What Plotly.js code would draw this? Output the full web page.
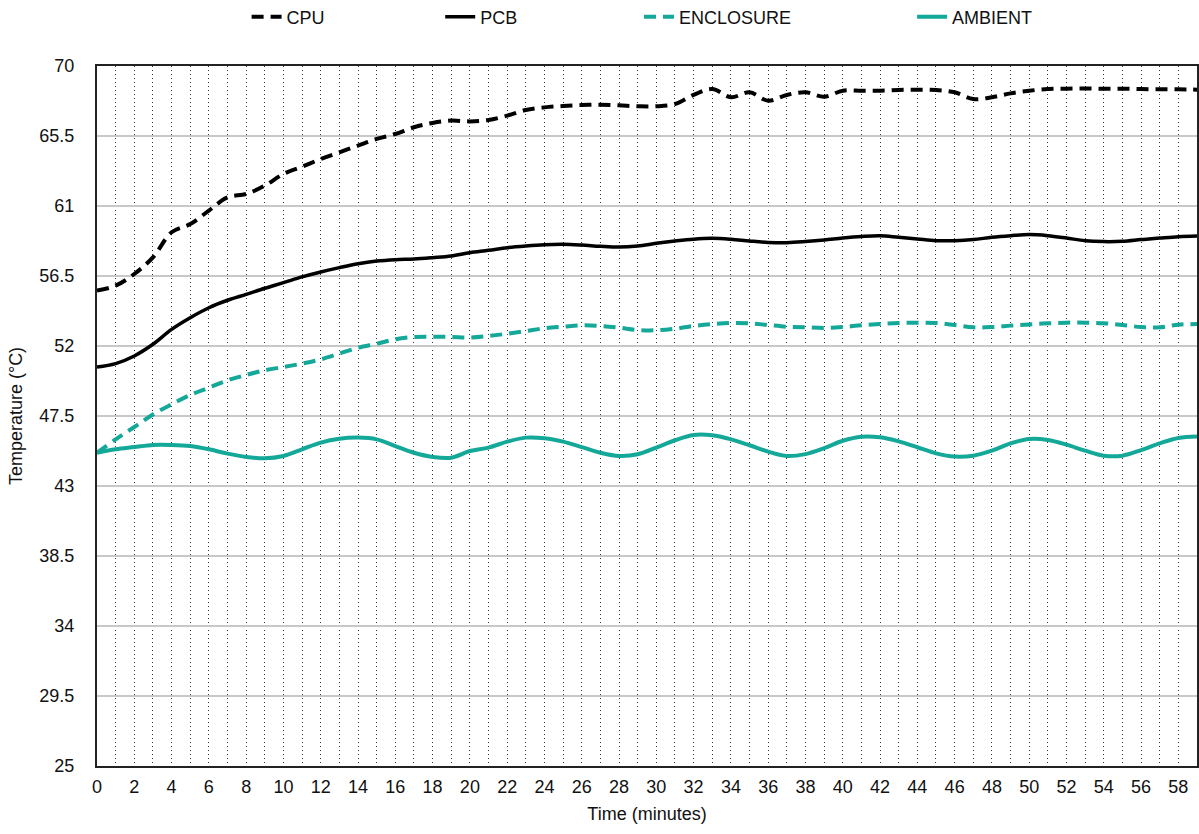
<!DOCTYPE html>
<html>
<head>
<meta charset="utf-8">
<script src="https://cdn.plot.ly/plotly-3.0.1.min.js"></script>
<style>
html,body{margin:0;padding:0;background:#fff;}
#chart{width:1199px;height:834px;}
</style>
</head>
<body>
<div id="chart"></div>
<script>
var minutes = [];
for (var i = 0; i <= 59; i++) minutes.push(i);

var seriesNames = ["CPU", "PCB", "ENCLOSURE", "AMBIENT"];

var cpu = [55.56,55.88,56.63,57.7,59.31,59.84,60.7,61.56,61.77,62.31,
           63.06,63.53,64.02,64.45,64.88,65.31,65.63,66.06,66.34,66.49,
           66.44,66.53,66.81,67.17,67.34,67.43,67.49,67.51,67.47,67.41,
           67.41,67.56,68.14,68.52,67.99,68.31,67.77,68.14,68.31,68.03,
           68.41,68.41,68.41,68.46,68.48,68.46,68.31,67.88,67.99,68.24,
           68.41,68.52,68.54,68.56,68.54,68.54,68.52,68.5,68.5,68.48];

var pcb = [50.65,50.87,51.36,52.11,53.07,53.82,54.46,54.94,55.32,55.71,
           56.07,56.44,56.76,57.04,57.29,57.46,57.55,57.59,57.68,57.79,
           58.0,58.15,58.32,58.43,58.51,58.54,58.49,58.41,58.36,58.43,
           58.6,58.75,58.87,58.92,58.86,58.75,58.66,58.64,58.71,58.81,
           58.94,59.04,59.09,58.99,58.88,58.77,58.77,58.84,58.99,59.09,
           59.16,59.09,58.94,58.77,58.71,58.73,58.84,58.94,59.03,59.07];

var enclosure = [45.14,46.0,46.79,47.6,48.25,48.85,49.32,49.79,50.14,50.44,
                 50.65,50.87,51.14,51.51,51.89,52.15,52.43,52.58,52.6,52.58,
                 52.54,52.64,52.79,52.96,53.14,53.24,53.33,53.29,53.18,53.03,
                 53.01,53.11,53.29,53.41,53.48,53.46,53.35,53.24,53.2,53.16,
                 53.22,53.33,53.41,53.48,53.5,53.48,53.35,53.2,53.22,53.31,
                 53.39,53.46,53.5,53.5,53.46,53.35,53.22,53.2,53.37,53.41];

var ambient = [45.14,45.36,45.5,45.64,45.64,45.57,45.36,45.08,44.87,44.78,
               44.93,45.36,45.79,46.04,46.11,46.0,45.57,45.14,44.87,44.82,
               45.25,45.47,45.85,46.11,46.07,45.85,45.5,45.14,44.93,45.04,
               45.47,45.94,46.28,46.26,46.0,45.62,45.21,44.93,45.05,45.43,
               45.91,46.17,46.13,45.87,45.49,45.1,44.89,44.95,45.27,45.74,
               46.02,45.96,45.66,45.27,44.95,44.95,45.31,45.74,46.09,46.19];

var yTicks = [25, 29.5, 34, 38.5, 43, 47.5, 52, 56.5, 61, 65.5, 70];

var BLACK = "#000000";
var TEAL = "#14a899";
var FONT = "Liberation Sans, Arial, Helvetica, sans-serif";
var TXT = "#111111";

var traces = [
  {x: minutes, y: cpu, name: seriesNames[0], mode: "lines", legend: "legend",
   line: {color: BLACK, width: 4, dash: "12px,7px", shape: "spline", smoothing: 1}},
  {x: minutes, y: pcb, name: seriesNames[1], mode: "lines", legend: "legend2",
   line: {color: BLACK, width: 3.5, shape: "spline", smoothing: 1}},
  {x: minutes, y: enclosure, name: seriesNames[2], mode: "lines", legend: "legend3",
   line: {color: TEAL, width: 4, dash: "12px,7px", shape: "spline", smoothing: 1}},
  {x: minutes, y: ambient, name: seriesNames[3], mode: "lines", legend: "legend4",
   line: {color: TEAL, width: 4, shape: "spline", smoothing: 1}}
];

function leg(x) {
  return {x: x, xanchor: "left", yref: "container", y: 0.9796, yanchor: "middle",
          orientation: "h", bgcolor: "rgba(0,0,0,0)",
          font: {family: FONT, size: 18, color: TXT}};
}

var layout = {
  width: 1199, height: 834,
  margin: {l: 97, r: 2, t: 66, b: 68},
  paper_bgcolor: "#ffffff",
  plot_bgcolor: "#ffffff",
  font: {family: FONT, size: 18, color: TXT},
  showlegend: true,
  legend: leg(0.136),
  legend2: leg(0.312),
  legend3: leg(0.4927),
  legend4: leg(0.741),
  xaxis: {
    range: [0, 59],
    tick0: 0, dtick: 2,
    showline: true, mirror: true, linecolor: "#222", linewidth: 2,
    showgrid: true, gridcolor: "#333", gridwidth: 1, griddash: "1px,3px",
    minor: {dtick: 1, showgrid: true, gridcolor: "#333", gridwidth: 1, griddash: "1px,3px"},
    zeroline: false,
    ticks: "outside", ticklen: 3, tickcolor: "rgba(0,0,0,0)",
    tickfont: {family: FONT, size: 18, color: TXT},
    title: {text: "Time (minutes)", font: {family: FONT, size: 18, color: TXT}, standoff: 12}
  },
  yaxis: {
    range: [25, 70],
    tickvals: yTicks,
    showline: true, mirror: true, linecolor: "#222", linewidth: 2,
    showgrid: true, gridcolor: "#c8c8c8", gridwidth: 1.5,
    zeroline: false,
    ticks: "outside", ticklen: 17, tickcolor: "rgba(0,0,0,0)",
    tickfont: {family: FONT, size: 18, color: TXT},
    title: {text: "Temperature (°C)", font: {family: FONT, size: 18, color: TXT}, standoff: 12}
  }
};

Plotly.newPlot("chart", traces, layout, {displayModeBar: false, staticPlot: true});
</script>
</body>
</html>
